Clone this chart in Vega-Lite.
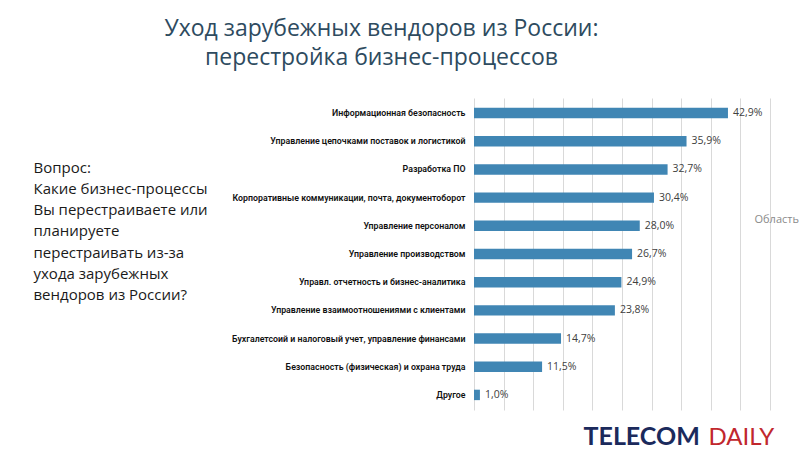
{
  "$schema": "https://vega.github.io/schema/vega-lite/v6.json",
  "autosize": "none",
  "width": 296,
  "height": 312,
  "padding": {"left": 474, "top": 98, "right": 30, "bottom": 47},
  "background": "white",
  "title": {
    "text": ["Уход зарубежных вендоров из России:", "перестройка бизнес-процессов"],
    "anchor": "middle",
    "frame": "group",
    "dx": -240.5,
    "offset": 28,
    "font": "Open Sans",
    "fontSize": 23,
    "fontWeight": "normal",
    "color": "#2e4b5f",
    "lineHeight": 29
  },
  "data": {
    "values": [
      {"process": "Информационная безопасность", "share": 0.429},
      {"process": "Управление цепочками поставок и логистикой", "share": 0.359},
      {"process": "Разработка ПО", "share": 0.327},
      {"process": "Корпоративные коммуникации, почта, документоборот", "share": 0.304},
      {"process": "Управление персоналом", "share": 0.280},
      {"process": "Управление производством", "share": 0.267},
      {"process": "Управл. отчетность и бизнес-аналитика", "share": 0.249},
      {"process": "Управление взаимоотношениями с клиентами", "share": 0.238},
      {"process": "Бухгалетсоий и налоговый учет, управление финансами", "share": 0.147},
      {"process": "Безопасность (физическая) и охрана труда", "share": 0.115},
      {"process": "Другое", "share": 0.010}
    ]
  },
  "resolve": {"axis": {"x": "independent", "y": "independent"}},
  "layer": [
    {
      "mark": {"type": "bar", "color": "#4086b4"},
      "encoding": {
        "y": {
          "field": "process",
          "type": "nominal",
          "sort": null,
          "scale": {"paddingInner": 0.63, "paddingOuter": 0.35},
          "axis": {
            "orient": "left",
            "domain": false,
            "ticks": false,
            "labelFont": "Roboto",
            "labelFontSize": 8.8,
            "labelFontWeight": 600,
            "labelColor": "#111111",
            "labelPadding": 9,
            "labelLimit": 320,
            "title": ["Вопрос:", "Какие бизнес-процессы", "Вы перестраиваете или", "планируете", "перестраивать из-за", "ухода зарубежных", "вендоров из России?"],
            "titleAngle": 0,
            "titleAlign": "left",
            "titleBaseline": "alphabetic",
            "titleX": -441,
            "titleY": 74,
            "titleFont": "Open Sans",
            "titleFontSize": 15,
            "titleFontWeight": "normal",
            "titleColor": "#1a1a1a",
            "titleLineHeight": 21.3
          }
        },
        "x": {
          "field": "share",
          "type": "quantitative",
          "scale": {"domain": [0, 0.5], "nice": false},
          "axis": {
            "orient": "bottom",
            "values": [0, 0.05, 0.1, 0.15, 0.2, 0.25, 0.3, 0.35, 0.4, 0.45, 0.5],
            "grid": true,
            "gridColor": "#d9d9d9",
            "gridWidth": 1,
            "labels": false,
            "ticks": false,
            "domain": false,
            "title": "TELECOM",
            "titleAngle": 0,
            "titleAlign": "left",
            "titleBaseline": "alphabetic",
            "titleX": 109,
            "titleY": 34.5,
            "titleFont": "Lato",
            "titleFontSize": 25,
            "titleFontWeight": "bold",
            "titleColor": "#1b2a5c"
          }
        }
      }
    },
    {
      "mark": {"type": "text", "align": "left", "baseline": "middle", "dx": 5, "font": "Open Sans", "fontSize": 10.5, "color": "#404040"},
      "encoding": {
        "y": {
          "field": "process",
          "type": "nominal",
          "sort": null,
          "axis": {
            "orient": "right",
            "domain": false,
            "ticks": false,
            "labels": false,
            "grid": false,
            "title": "Область",
            "titleAngle": 0,
            "titleAlign": "left",
            "titleBaseline": "alphabetic",
            "titleX": -16,
            "titleY": 124,
            "titleFont": "Open Sans",
            "titleFontSize": 11,
            "titleFontWeight": "normal",
            "titleColor": "#8a8a8a"
          }
        },
        "x": {
          "field": "share",
          "type": "quantitative",
          "axis": {
            "orient": "top",
            "grid": false,
            "labels": false,
            "ticks": false,
            "domain": false,
            "title": "DAILY",
            "titleAngle": 0,
            "titleAlign": "left",
            "titleBaseline": "alphabetic",
            "titleX": 234,
            "titleY": 346.5,
            "titleFont": "Lato",
            "titleFontSize": 24,
            "titleFontWeight": "normal",
            "titleColor": "#c1272d"
          }
        },
        "text": {"field": "share", "type": "quantitative", "format": ".1%"}
      }
    }
  ],
  "config": {
    "view": {"stroke": null},
    "locale": {"number": {"decimal": ",", "thousands": " ", "grouping": [3], "currency": ["", " ₽"]}}
  }
}
